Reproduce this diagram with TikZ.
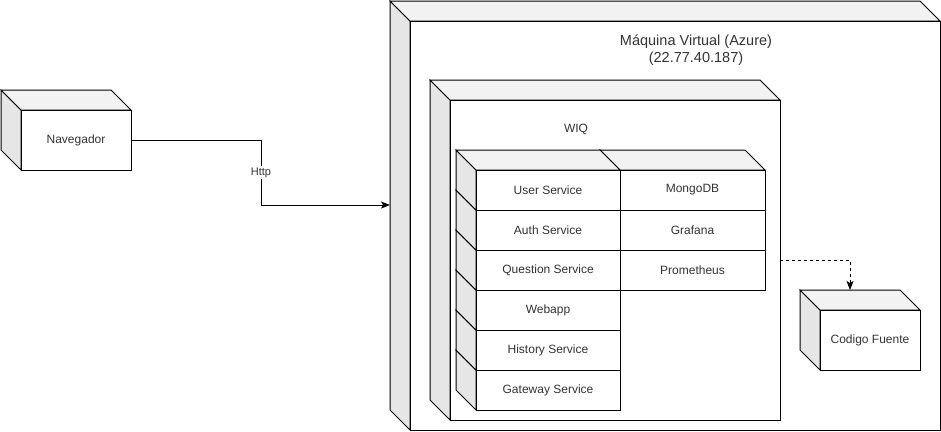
\documentclass[tikz,border=0pt]{standalone}
\usepackage{fontspec}
\setmainfont{Liberation Sans}
\usetikzlibrary{arrows.meta}
\definecolor{topgray}{HTML}{F2F2F2}
\definecolor{sidegray}{HTML}{E6E6E6}
\definecolor{txtgray}{HTML}{333333}

\begin{document}
\begin{tikzpicture}[x=1pt,y=-1pt,line width=1pt,
  face/.style={draw=black,fill=#1,line join=miter},
  front/.style={draw=black,fill=white,inner sep=0pt,outer sep=0pt,text=txtgray,font=\fontsize{12}{14}\selectfont},
  plain/.style={inner sep=0pt,text=txtgray,font=\fontsize{12}{14}\selectfont},
  lbl/.style={fill=white,inner sep=1.5pt,text=txtgray,font=\fontsize{11}{13}\selectfont},
  conn/.style={-{Stealth[length=9pt,width=7pt,inset=2pt]}}]
\useasboundingbox (0,0) rectangle (941,431);
%\draw[step=10pt,gray,very thin] (0,0) grid (941,431);
% Navegador
\draw[face=sidegray] (1,90) -- (21,110) -- (21,170) -- (1,150) -- cycle;
\draw[face=topgray] (1,90) -- (111,90) -- (131,110) -- (21,110) -- cycle;
\node[front,minimum width=110pt,minimum height=60pt] (nav) at (76,140) {Navegador};
% maquina virtual
\draw[face=sidegray] (390,1) -- (410,21) -- (410,430) -- (390,410) -- cycle;
\draw[face=topgray] (390,1) -- (920,1) -- (940,21) -- (410,21) -- cycle;
\node[front,minimum width=530pt,minimum height=409pt] (vm) at (675,225.5) {};
\node[plain,align=center,font=\fontsize{14.5}{16.5}\selectfont] (vmlabel) at (696,50) {Máquina Virtual (Azure)\\(22.77.40.187)};
% WIQ
\draw[face=sidegray] (430,80) -- (450,100) -- (450,420) -- (430,400) -- cycle;
\draw[face=topgray] (430,80) -- (760,80) -- (780,100) -- (450,100) -- cycle;
\node[front,minimum width=330pt,minimum height=320pt] (wiq) at (615,260) {};
\node[plain] (wiqlabel) at (576,129) {WIQ};
% columna derecha
\draw[face=sidegray] (600,230) -- (620,250) -- (620,290) -- (600,270) -- cycle;
\draw[face=topgray] (600,230) -- (745,230) -- (765,250) -- (620,250) -- cycle;
\node[front,minimum width=145pt,minimum height=40pt] (prom) at (692.5,270) {Prometheus};
\draw[face=sidegray] (600,190) -- (620,210) -- (620,250) -- (600,230) -- cycle;
\draw[face=topgray] (600,190) -- (745,190) -- (765,210) -- (620,210) -- cycle;
\node[front,minimum width=145pt,minimum height=40pt] (graf) at (692.5,230) {Grafana};
\draw[face=sidegray] (600,150) -- (620,170) -- (620,210) -- (600,190) -- cycle;
\draw[face=topgray] (600,150) -- (745,150) -- (765,170) -- (620,170) -- cycle;
\node[front,minimum width=145pt,minimum height=40pt] (mongo) at (692.5,190) {MongoDB};
% columna izquierda
\draw[face=sidegray] (456,350) -- (476,370) -- (476,410) -- (456,390) -- cycle;
\draw[face=topgray] (456,350) -- (600,350) -- (620,370) -- (476,370) -- cycle;
\node[front,minimum width=144pt,minimum height=40pt] (gateway) at (548,390) {Gateway Service};
\draw[face=sidegray] (456,310) -- (476,330) -- (476,370) -- (456,350) -- cycle;
\draw[face=topgray] (456,310) -- (600,310) -- (620,330) -- (476,330) -- cycle;
\node[front,minimum width=144pt,minimum height=40pt] (history) at (548,350) {History Service};
\draw[face=sidegray] (456,270) -- (476,290) -- (476,330) -- (456,310) -- cycle;
\draw[face=topgray] (456,270) -- (600,270) -- (620,290) -- (476,290) -- cycle;
\node[front,minimum width=144pt,minimum height=40pt] (webapp) at (548,310) {Webapp};
\draw[face=sidegray] (456,230) -- (476,250) -- (476,290) -- (456,270) -- cycle;
\draw[face=topgray] (456,230) -- (600,230) -- (620,250) -- (476,250) -- cycle;
\node[front,minimum width=144pt,minimum height=40pt] (question) at (548,270) {Question Service};
\draw[face=sidegray] (456,190) -- (476,210) -- (476,250) -- (456,230) -- cycle;
\draw[face=topgray] (456,190) -- (600,190) -- (620,210) -- (476,210) -- cycle;
\node[front,minimum width=144pt,minimum height=40pt] (auth) at (548,230) {Auth Service};
\draw[face=sidegray] (456,150) -- (476,170) -- (476,210) -- (456,190) -- cycle;
\draw[face=topgray] (456,150) -- (600,150) -- (620,170) -- (476,170) -- cycle;
\node[front,minimum width=144pt,minimum height=40pt] (user) at (548,190) {User Service};
% Codigo Fuente
\draw[face=sidegray] (800,290) -- (820,310) -- (820,370) -- (800,350) -- cycle;
\draw[face=topgray] (800,290) -- (900,290) -- (920,310) -- (820,310) -- cycle;
\node[front,minimum width=100pt,minimum height=60pt] (codigo) at (870,340) {Codigo Fuente};
% conexiones
\coordinate (vmin) at (390,205);
\coordinate (cfin) at (850,290);
\draw[conn] (nav.east) -- ++(130,0) |- node[lbl,pos=0.25] (http) {Http} (vmin);
\draw[conn,dash pattern=on 3pt off 3pt] (wiq.east) -| (cfin);
\end{tikzpicture}
\end{document}
